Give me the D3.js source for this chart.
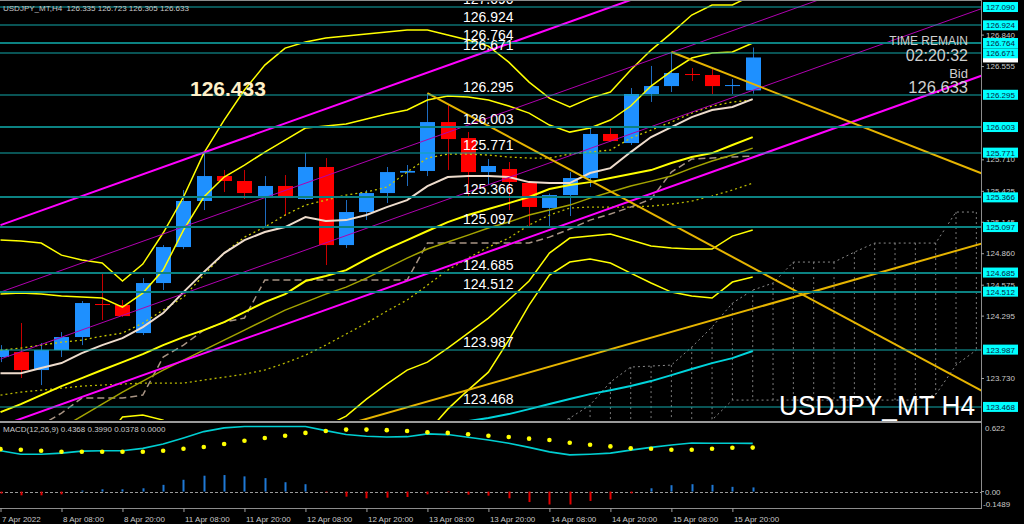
<!DOCTYPE html>
<html><head><meta charset="utf-8">
<script src="https://cdn.jsdelivr.net/npm/d3@7"></script>
<style>html,body{margin:0;padding:0;background:#000;}svg{display:block;}text{font-family:"Liberation Sans",Arial,sans-serif;}</style>
</head><body>
<svg id="c" width="1024" height="524"></svg>
<script>
// ---------- DATA ----------
const timeLabels = ["7 Apr 2022","8 Apr 08:00","8 Apr 20:00","11 Apr 08:00","11 Apr 20:00","12 Apr 08:00","12 Apr 20:00","13 Apr 08:00","13 Apr 20:00","14 Apr 08:00","14 Apr 20:00","15 Apr 08:00","15 Apr 20:00"];
const timeTickIdx = [0,3,6,9,12,15,18,21,24,27,30,33,36];

const open  = [123.920,123.965,123.802,123.983,124.101,124.400,124.391,124.137,124.590,124.916,125.333,125.559,125.514,125.360,125.469,125.351,125.641,124.934,125.233,125.405,125.590,125.605,126.048,125.903,125.595,125.623,125.496,125.270,125.387,125.541,125.940,125.858,126.302,126.374,126.483,126.474,126.379,126.335];
const high  = [124.028,124.228,124.047,124.146,124.427,124.681,124.436,124.635,124.934,125.432,125.777,125.614,125.614,125.559,125.568,125.768,125.722,125.342,125.432,125.641,125.659,126.311,126.202,125.958,125.713,125.686,125.505,125.400,125.595,126.012,125.994,126.356,126.556,126.682,126.537,126.528,126.438,126.723];
const low   = [123.874,123.730,123.666,123.920,124.028,124.255,124.282,124.119,124.527,124.898,125.251,125.414,125.351,125.097,125.197,125.342,124.753,124.907,125.161,125.315,125.469,125.559,125.614,125.378,125.478,125.251,125.106,125.097,125.197,125.460,125.870,125.840,126.230,126.320,126.420,126.302,126.302,126.305];
const close = [123.983,123.802,123.983,124.101,124.409,124.391,124.291,124.590,124.916,125.333,125.559,125.514,125.405,125.469,125.360,125.641,124.934,125.233,125.405,125.595,125.605,126.048,125.894,125.595,125.650,125.505,125.279,125.387,125.541,125.940,125.876,126.302,126.374,126.492,126.478,126.374,126.383,126.633];

const maWhite = [123.774,123.774,123.820,123.865,123.956,124.028,124.091,124.191,124.318,124.508,124.689,124.861,124.979,125.052,125.097,125.187,125.151,125.160,125.206,125.278,125.341,125.468,125.550,125.559,125.559,125.550,125.504,125.495,125.495,125.586,125.631,125.776,125.912,126.003,126.093,126.157,126.184,126.256];
const maOlive = [123.077,123.122,123.186,123.276,123.385,123.494,123.602,123.702,123.802,123.892,123.983,124.073,124.164,124.254,124.345,124.417,124.490,124.553,124.635,124.725,124.816,124.898,124.961,125.024,125.088,125.142,125.206,125.251,125.296,125.359,125.414,125.468,125.513,125.559,125.631,125.695,125.749,125.812];
const bbOuterUp = [124.979,124.970,124.952,124.843,124.798,124.771,124.608,124.762,125.043,125.369,125.767,126.066,126.338,126.564,126.718,126.773,126.809,126.827,126.845,126.863,126.881,126.881,126.836,126.791,126.736,126.591,126.410,126.265,126.184,126.265,126.320,126.519,126.700,126.854,127.017,127.108,127.108,127.198];
const bbInnerUp = [124.490,124.499,124.490,124.472,124.463,124.454,124.372,124.499,124.707,125.070,125.369,125.550,125.658,125.776,125.885,125.994,126.012,126.030,126.075,126.120,126.157,126.247,126.283,126.274,126.247,126.193,126.129,126.021,125.957,125.994,126.066,126.193,126.374,126.510,126.628,126.673,126.682,126.764];
const bbMid = [123.421,123.494,123.575,123.657,123.729,123.802,123.874,123.946,124.028,124.100,124.164,124.236,124.327,124.417,124.490,124.608,124.653,124.707,124.807,124.898,124.979,125.061,125.142,125.206,125.260,125.314,125.369,125.441,125.477,125.504,125.541,125.577,125.613,125.677,125.731,125.767,125.840,125.912];
const bbInnerLo = [122.388,122.488,122.660,122.841,122.995,123.149,123.376,123.394,123.349,123.131,122.959,122.923,122.995,123.059,123.095,123.222,123.294,123.385,123.539,123.675,123.802,123.874,124.001,124.137,124.273,124.436,124.608,124.861,124.997,125.015,125.033,124.979,124.925,124.907,124.898,124.898,125.015,125.070];
const bbOuterLo = [121.863,122.017,122.198,122.470,122.660,122.832,123.140,123.131,123.013,122.832,122.561,122.407,122.316,122.271,122.262,122.443,122.497,122.588,122.769,122.932,123.077,123.240,123.448,123.620,123.783,124.073,124.390,124.662,124.780,124.807,124.771,124.680,124.590,124.508,124.472,124.454,124.599,124.644];
const kijun = [123.167,123.167,123.303,123.412,123.548,123.548,123.548,123.575,123.919,124.028,124.164,124.236,124.273,124.617,124.617,124.617,124.617,124.617,124.617,124.617,124.617,124.952,124.952,124.952,124.952,124.952,124.952,125.006,125.079,125.160,125.215,125.278,125.350,125.595,125.713,125.722,125.731,125.740];
const dottedUpper = [123.983,124.001,124.028,124.055,124.073,124.109,124.137,124.227,124.345,124.463,124.662,124.861,125.006,125.097,125.206,125.296,125.341,125.387,125.414,125.459,125.595,125.722,125.758,125.758,125.749,125.731,125.722,125.722,125.758,125.776,125.794,125.903,125.975,126.048,126.129,126.193,126.229,126.247];
const dottedLower = [123.575,123.602,123.620,123.638,123.657,123.666,123.675,123.684,123.684,123.684,123.711,123.738,123.765,123.802,123.865,123.937,124.028,124.128,124.227,124.336,124.436,124.571,124.707,124.816,124.916,124.997,125.115,125.206,125.269,125.278,125.278,125.278,125.287,125.305,125.332,125.378,125.432,125.495];
const cyanStart = 22;
const cyanLine = [123.303,123.340,123.367,123.403,123.448,123.494,123.539,123.584,123.620,123.657,123.702,123.756,123.811,123.865,123.910,123.974];
const cloudStart = 27;
const cloudA = [123.276,123.367,123.485,123.693,123.829,123.838,123.847,124.010,124.191,124.408,124.526,124.590,124.780,124.780,124.780,124.870,124.952,124.952,124.952,124.952,125.233,125.233];
const cloudB = [123.167,123.167,123.167,123.167,123.167,123.167,123.167,123.258,123.349,123.530,123.530,123.530,123.530,123.530,123.530,123.530,123.530,123.530,123.530,123.580,123.847,123.983];

// channel and trend lines: [barIndex, price]
const channelThick = [[[0,125.115],[48.3,128.291]], [[0,123.295],[48.3,126.471]]];
const channelThin  = [[[0,124.508],[48.3,127.684]], [[0,123.902],[48.3,127.078]]];
const trendLines = [[[21,126.311],[48.3,123.61]], [[33,126.682],[48.3,125.58]], [[10,122.94],[48.3,124.95]]];

const levels = [127.090,126.924,126.764,126.671,126.295,126.003,125.771,125.366,125.097,124.685,124.512,123.987,123.468];
const priceTicks = [126.840,126.555,125.710,125.425,125.145,124.860,124.575,124.295,123.730];
const bidPrice = 126.633;

const macdMain = [0.370,0.339,0.339,0.349,0.367,0.370,0.370,0.392,0.431,0.486,0.544,0.578,0.590,0.590,0.590,0.590,0.553,0.517,0.502,0.495,0.498,0.523,0.517,0.493,0.468,0.438,0.401,0.360,0.333,0.339,0.349,0.376,0.401,0.422,0.440,0.438,0.438,0.4368];
const macdSignal = [0.385,0.379,0.370,0.361,0.361,0.361,0.361,0.361,0.370,0.388,0.404,0.431,0.461,0.486,0.507,0.532,0.550,0.562,0.562,0.557,0.550,0.538,0.532,0.520,0.507,0.495,0.480,0.468,0.443,0.425,0.410,0.392,0.388,0.379,0.379,0.388,0.397,0.399];
const macdHist = [-0.018,-0.034,-0.034,-0.025,0.009,0.021,0.021,0.030,0.061,0.107,0.144,0.150,0.138,0.122,0.085,0.067,-0.006,-0.046,-0.061,-0.055,-0.049,-0.025,-0.005,-0.028,-0.037,-0.061,-0.095,-0.117,-0.117,-0.085,-0.071,-0.016,0.030,0.058,0.067,0.061,0.043,0.0378];
const macdTicks = [0.622, 0.00, -0.1489];

// ---------- LAYOUT ----------
const plotR = 981, mainB = 420, macdT = 423, macdB = 508;
const svg = d3.select('#c');
svg.append('rect').attr('width',1024).attr('height',524).attr('fill','#000');
const defs = svg.append('defs');
defs.append('clipPath').attr('id','cm').append('rect').attr('x',0).attr('y',0).attr('width',plotR).attr('height',mainB);
defs.append('clipPath').attr('id','cd').append('rect').attr('x',0).attr('y',macdT).attr('width',plotR).attr('height',macdB-macdT);

const x = d3.scaleLinear().domain([0,48]).range([0.5, 0.5+48*20.33]);
const y = d3.scaleLinear().domain([123.3496,127.1534]).range([mainB,0]);
const my = d3.scaleLinear().domain([-0.1489,0.622]).range([macdB,macdT]);

const main = svg.append('g').attr('clip-path','url(#cm)');
const line = (off)=>d3.line().x((d,i)=>x(i+off)).y(d=>y(d));
function series(arr, off, stroke, w, dash){
  main.append('path').datum(arr).attr('d',line(off)).attr('fill','none')
    .attr('stroke',stroke).attr('stroke-width',w).attr('stroke-dasharray',dash||null);
}
const seg = d3.line().x(d=>x(d[0])).y(d=>y(d[1]));

// candles
const cg = main.append('g');
close.forEach((c,i)=>{
  const o=open[i], bull=c>=o;
  const cx=Math.round(x(i));
  cg.append('line').attr('x1',cx+0.5).attr('x2',cx+0.5).attr('y1',y(high[i])).attr('y2',y(low[i]))
    .attr('stroke',bull?'#1e6cc0':'#c80000').attr('stroke-width',1);
  const t=y(Math.max(o,c)), b=y(Math.min(o,c));
  cg.append('rect').attr('x',cx-7).attr('width',15).attr('y',t).attr('height',Math.max(1,b-t))
    .attr('fill',bull?'#1e90ff':'#ff0000');
});

// Ichimoku-like cloud
const cloudG = main.append('g');
cloudA.forEach((a,k)=>{
  cloudG.append('line').attr('x1',x(k+cloudStart)).attr('x2',x(k+cloudStart))
    .attr('y1',y(a)).attr('y2',y(cloudB[k])).attr('stroke','#7a7a7a').attr('stroke-width',1).attr('stroke-dasharray','2,3');
});
series(cloudA, cloudStart, '#8a8a8a', 1, '2,3');
series(cloudB, cloudStart, '#8a8a8a', 1, '2,3');

// indicator lines
series(dottedLower, 0, '#b8b800', 1.3, '2,3');
series(dottedUpper, 0, '#c8c800', 1.3, '2,3');
series(kijun, 0, '#a89484', 1.5, '7,4');
series(maOlive, 0, '#a4a400', 1.5);
series(bbOuterUp, 0, '#ffff00', 1.5);
series(bbInnerUp, 0, '#ffff00', 1.5);
series(bbMid, 0, '#ffff00', 2);
series(bbInnerLo, 0, '#ffff00', 1.5);
series(bbOuterLo, 0, '#ffff00', 1.5);
series(maWhite, 0, '#eedccc', 2);
series(cyanLine, cyanStart, '#00d4dc', 2);

// channel + trend lines
channelThin.forEach(s=>main.append('path').attr('d',seg(s)).attr('stroke','#b000b0').attr('stroke-width',1).attr('fill','none'));
channelThick.forEach(s=>main.append('path').attr('d',seg(s)).attr('stroke','#ff00ff').attr('stroke-width',2).attr('fill','none'));
trendLines.forEach(s=>main.append('path').attr('d',seg(s)).attr('stroke','#e6b400').attr('stroke-width',2).attr('fill','none'));

// horizontal levels
const thickLv = new Set([126.764,126.003,125.366,125.097,124.685,124.512]);
levels.forEach(v=>{
  const yy = Math.round(y(v));
  main.append('line').attr('x1',0).attr('x2',plotR).attr('y1',yy).attr('y2',yy)
    .attr('stroke', thickLv.has(v)?'#0c8282':'#12a8aa').attr('stroke-width', thickLv.has(v)?2:1.2);
  main.append('text').attr('x',463).attr('y',yy-3).attr('fill','#ffffff').attr('font-size',14).text(v.toFixed(3));
});

// texts in main
main.append('text').attr('x',190).attr('y',96).attr('fill','#fff0c8').attr('font-size',21).attr('font-weight','bold').text('126.433');
const info = svg.append('g').attr('fill','#cfcfcf').attr('text-anchor','end');
info.append('text').attr('x',968).attr('y',45).attr('font-size',12).text('TIME REMAIN');
info.append('text').attr('x',968).attr('y',61).attr('font-size',16).text('02:20:32');
info.append('text').attr('x',968).attr('y',78).attr('font-size',13).text('Bid');
info.append('text').attr('x',968).attr('y',93).attr('font-size',16.5).text(bidPrice.toFixed(3));
svg.append('text').attr('x',779).attr('y',415).attr('fill','#ffffff').attr('font-size',28)
  .attr('textLength',196).attr('lengthAdjust','spacingAndGlyphs').text('USDJPY_MT H4');
svg.append('text').attr('x',3).attr('y',11).attr('fill','#c8c8c8').attr('font-size',8).style('white-space','pre')
  .text('USDJPY_MT,H4  '+[open[37],high[37],low[37],close[37]].map(v=>v.toFixed(3)).join(' '));

// borders
const border = '#8c8c8c';
svg.append('line').attr('x1',0).attr('x2',plotR).attr('y1',0.5).attr('y2',0.5).attr('stroke',border);
svg.append('rect').attr('x',0).attr('y',mainB+1).attr('width',plotR).attr('height',2).attr('fill','#9a9a9a');
svg.append('line').attr('x1',0).attr('x2',plotR+1).attr('y1',macdB+0.5).attr('y2',macdB+0.5).attr('stroke',border);
svg.append('line').attr('x1',plotR+0.5).attr('x2',plotR+0.5).attr('y1',0).attr('y2',macdB+1).attr('stroke',border);

// right price axis
const ax = svg.append('g').attr('transform',`translate(${plotR},0)`)
  .call(d3.axisRight(y).tickValues(priceTicks).tickFormat(d3.format('.3f')).tickSize(3).tickPadding(2));
ax.select('.domain').remove();
ax.selectAll('line').attr('stroke','#a0a0a0');
ax.selectAll('text').attr('fill','#c8c8c8').attr('font-size',8).attr('font-family','Liberation Sans, Arial, sans-serif');

// bid box then level boxes
svg.append('rect').attr('x',983).attr('y',y(bidPrice)-4).attr('width',35).attr('height',9).attr('fill','#ffffff');
levels.forEach(v=>{
  const yy = y(v);
  svg.append('rect').attr('x',983).attr('y',yy-5).attr('width',35).attr('height',10).attr('fill','#00ffff');
  svg.append('text').attr('x',986).attr('y',yy+3).attr('font-size',8).attr('fill','#0a1a40').text(v.toFixed(3));
});

// MACD panel
const md = svg.append('g').attr('clip-path','url(#cd)');
md.append('line').attr('x1',0).attr('x2',plotR).attr('y1',Math.round(my(0))+0.5).attr('y2',Math.round(my(0))+0.5)
  .attr('stroke','#9a9a9a').attr('stroke-dasharray','3,2');
macdHist.forEach((v,i)=>{
  md.append('line').attr('x1',Math.round(x(i))+0.5).attr('x2',Math.round(x(i))+0.5)
    .attr('y1',my(0)).attr('y2',my(v)).attr('stroke',v>=0?'#1f78d4':'#e00000').attr('stroke-width',2);
});
md.append('path').datum(macdMain).attr('d',d3.line().x((d,i)=>x(i)).y(d=>my(d))).attr('fill','none')
  .attr('stroke','#00ced1').attr('stroke-width',1.6);
md.selectAll('circle').data(macdSignal).join('circle').attr('cx',(d,i)=>x(i)).attr('cy',d=>my(d)).attr('r',2.3).attr('fill','#ffff00');
svg.append('text').attr('x',3).attr('y',432).attr('fill','#c8c8c8').attr('font-size',8)
  .text(`MACD(12,26,9) ${macdMain[37].toFixed(4)} ${macdSignal[37].toFixed(4)} ${macdHist[37].toFixed(4)} 0.0000`);
const mlab = svg.append('g').attr('font-size',8).attr('fill','#c8c8c8');
mlab.append('text').attr('x',985).attr('y',my(macdTicks[0])+8).text(macdTicks[0].toFixed(3));
mlab.append('text').attr('x',985).attr('y',my(macdTicks[1])+3).text(macdTicks[1].toFixed(2));
mlab.append('text').attr('x',983).attr('y',my(macdTicks[2])-1).text(macdTicks[2].toFixed(4));
svg.append('line').attr('x1',plotR).attr('x2',plotR+3).attr('y1',my(0)).attr('y2',my(0)).attr('stroke','#a0a0a0');

// time axis
const tx = svg.append('g').attr('transform',`translate(0,${macdB})`)
  .call(d3.axisBottom(x).tickValues(timeTickIdx).tickFormat((d,i)=>timeLabels[i]).tickSize(4).tickPadding(4));
tx.select('.domain').remove();
tx.selectAll('line').attr('stroke','#a0a0a0');
tx.selectAll('text').attr('fill','#c8c8c8').attr('font-size',8).attr('text-anchor','start').attr('x',1)
  .attr('font-family','Liberation Sans, Arial, sans-serif');
</script>
</body></html>
